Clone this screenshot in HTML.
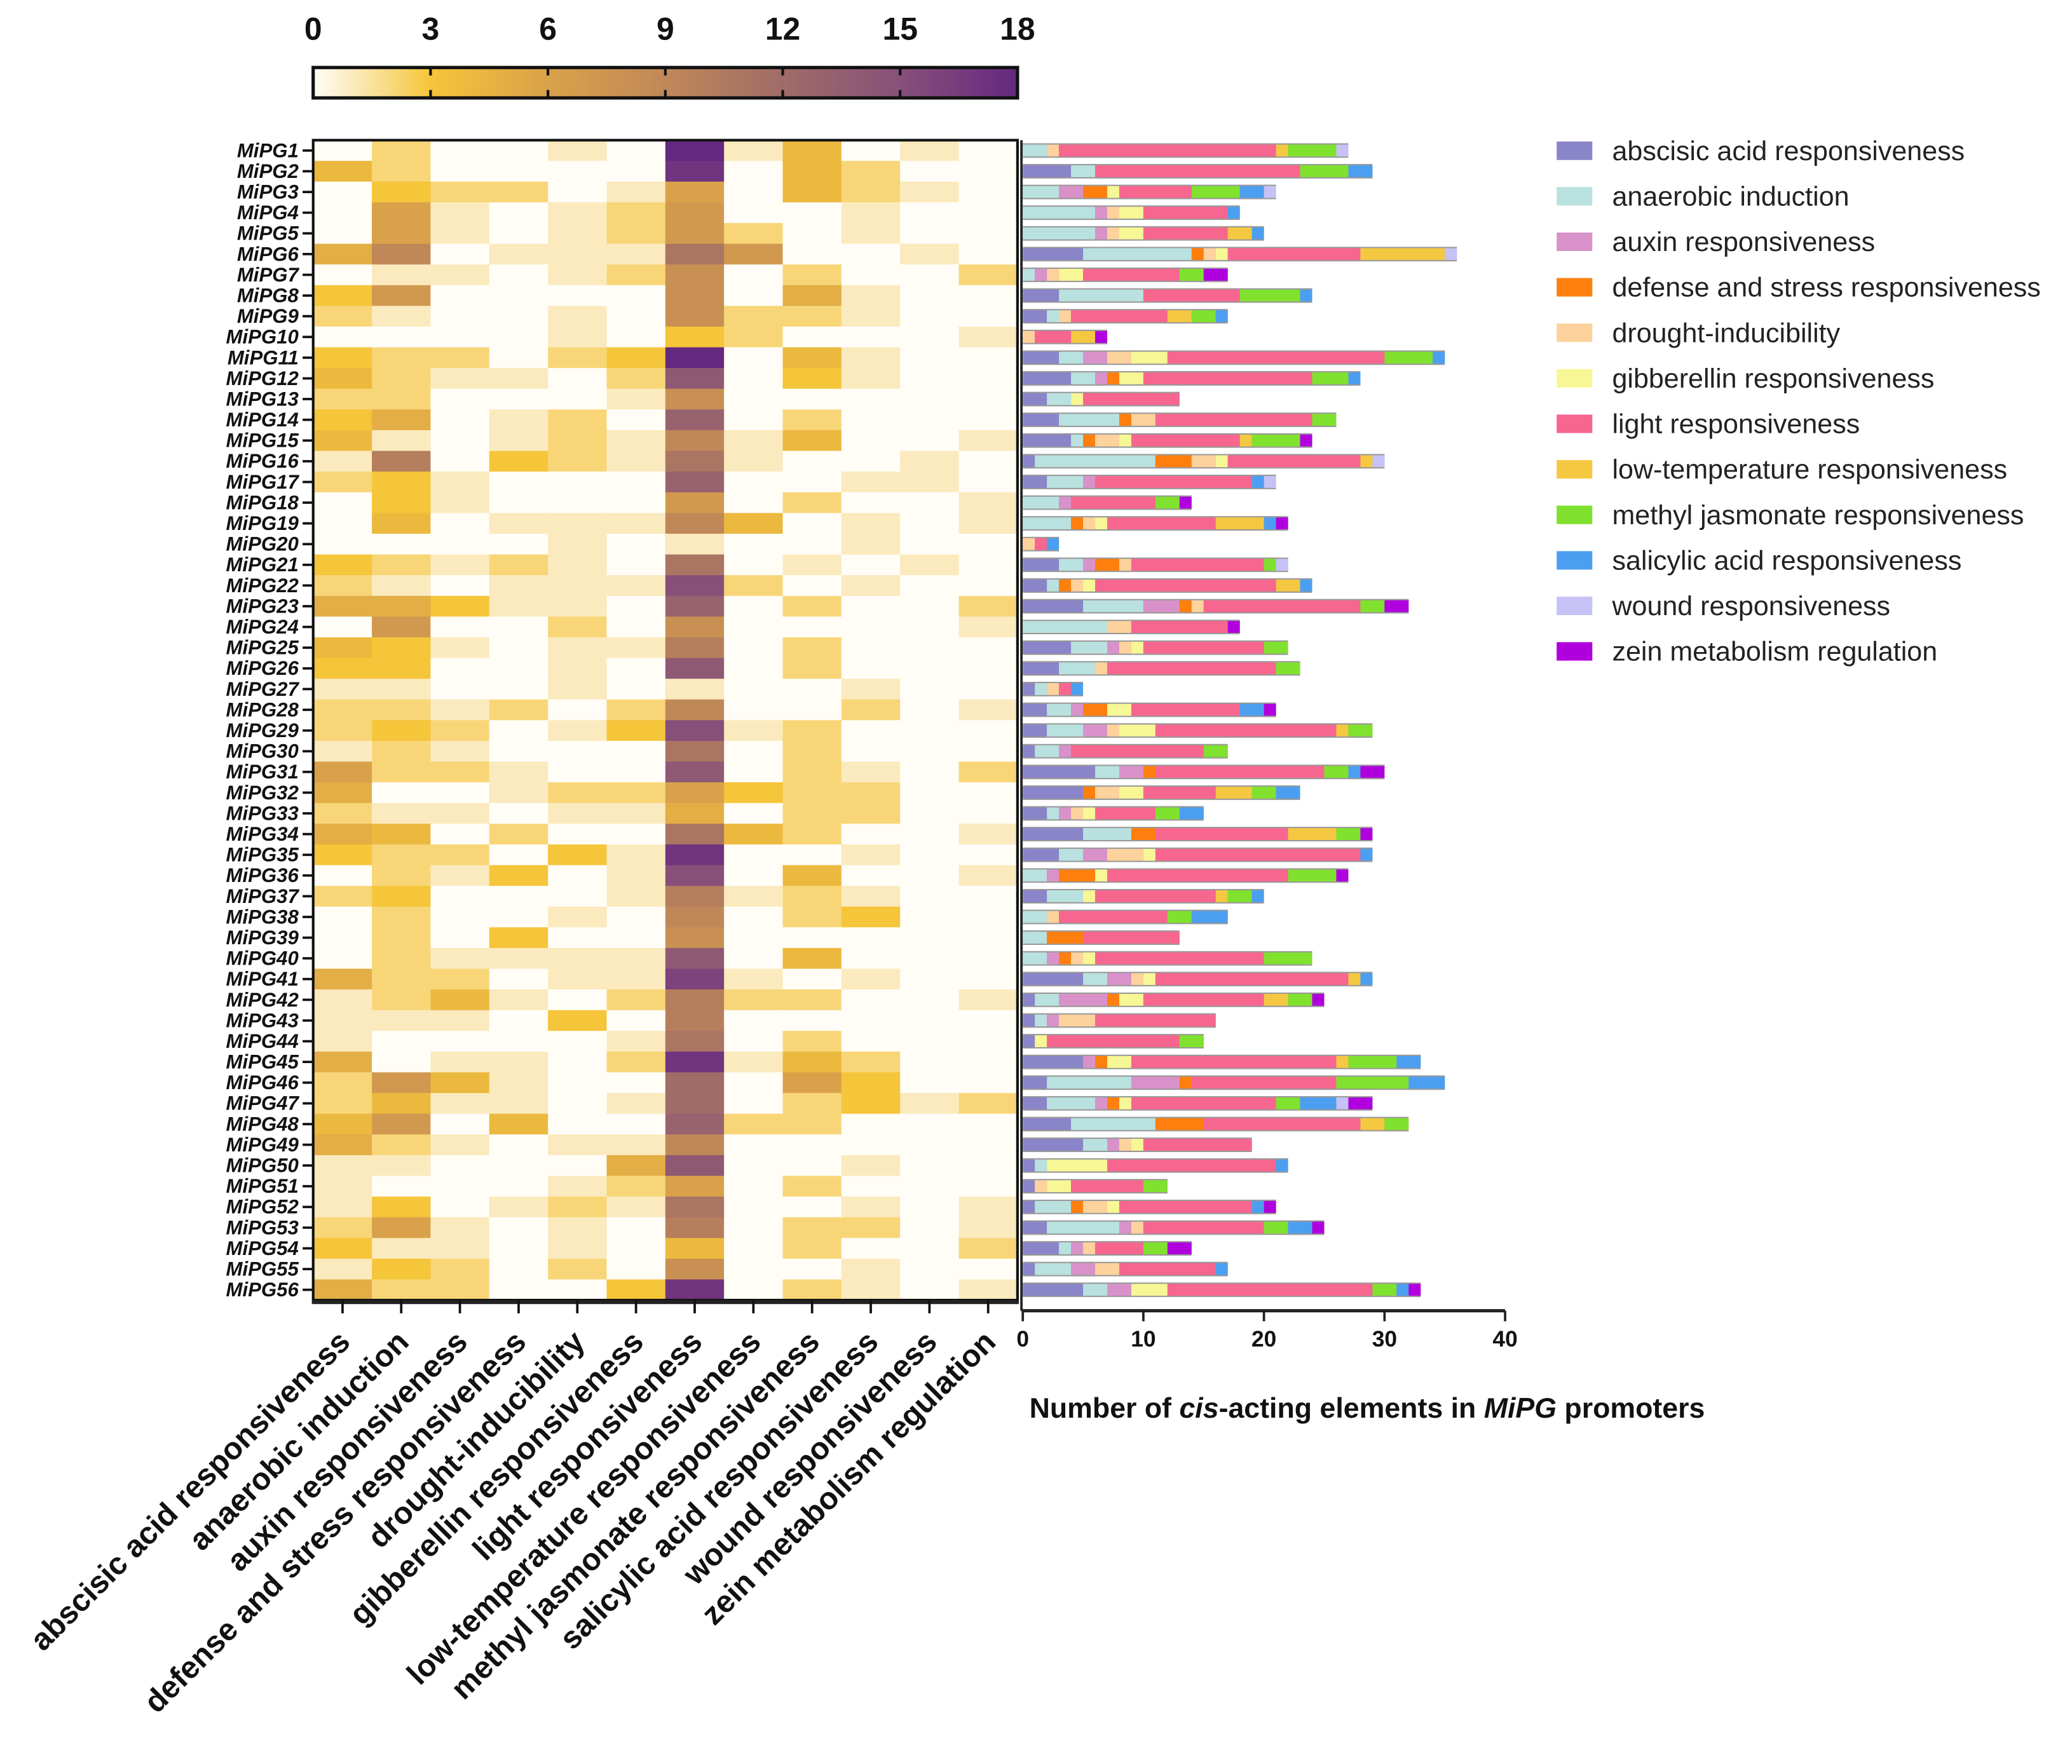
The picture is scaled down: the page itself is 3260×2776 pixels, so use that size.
<!DOCTYPE html>
<html><head><meta charset="utf-8">
<style>
html,body{margin:0;padding:0;background:#fff;}
svg{display:block;font-family:"Liberation Sans",Arial,sans-serif;}
</style></head>
<body>
<svg id="chart" width="3260" height="2776" viewBox="0 0 1568 1335" xmlns="http://www.w3.org/2000/svg">
<defs>
<linearGradient id="cbar" x1="0" x2="1" y1="0" y2="0">
<stop offset="0" stop-color="#fffdf6"/>
<stop offset="0.06" stop-color="#fbeab8"/>
<stop offset="0.1667" stop-color="#f5c53a"/>
<stop offset="0.3333" stop-color="#d9a24a"/>
<stop offset="0.5" stop-color="#c08858"/>
<stop offset="0.6667" stop-color="#a06c68"/>
<stop offset="0.8333" stop-color="#87507a"/>
<stop offset="1" stop-color="#652880"/>
</linearGradient>
</defs>
<g id="colorbar"></g>
<g id="heat"></g>
<g id="bars"></g>
<g id="legend"></g>
</svg>
<script>
const categories = ["abscisic acid responsiveness","anaerobic induction","auxin responsiveness","defense and stress responsiveness","drought-inducibility","gibberellin responsiveness","light responsiveness","low-temperature responsiveness","methyl jasmonate responsiveness","salicylic acid responsiveness","wound responsiveness","zein metabolism regulation"];
const genes = Array.from({length:56},(_,i)=>"MiPG"+(i+1));
const counts = [
[0,2,0,0,1,0,18,1,4,0,1,0],
[4,2,0,0,0,0,17,0,4,2,0,0],
[0,3,2,2,0,1,6,0,4,2,1,0],
[0,6,1,0,1,2,7,0,0,1,0,0],
[0,6,1,0,1,2,7,2,0,1,0,0],
[5,9,0,1,1,1,11,7,0,0,1,0],
[0,1,1,0,1,2,8,0,2,0,0,2],
[3,7,0,0,0,0,8,0,5,1,0,0],
[2,1,0,0,1,0,8,2,2,1,0,0],
[0,0,0,0,1,0,3,2,0,0,0,1],
[3,2,2,0,2,3,18,0,4,1,0,0],
[4,2,1,1,0,2,14,0,3,1,0,0],
[2,2,0,0,0,1,8,0,0,0,0,0],
[3,5,0,1,2,0,13,0,2,0,0,0],
[4,1,0,1,2,1,9,1,4,0,0,1],
[1,10,0,3,2,1,11,1,0,0,1,0],
[2,3,1,0,0,0,13,0,0,1,1,0],
[0,3,1,0,0,0,7,0,2,0,0,1],
[0,4,0,1,1,1,9,4,0,1,0,1],
[0,0,0,0,1,0,1,0,0,1,0,0],
[3,2,1,2,1,0,11,0,1,0,1,0],
[2,1,0,1,1,1,15,2,0,1,0,0],
[5,5,3,1,1,0,13,0,2,0,0,2],
[0,7,0,0,2,0,8,0,0,0,0,1],
[4,3,1,0,1,1,10,0,2,0,0,0],
[3,3,0,0,1,0,14,0,2,0,0,0],
[1,1,0,0,1,0,1,0,0,1,0,0],
[2,2,1,2,0,2,9,0,0,2,0,1],
[2,3,2,0,1,3,15,1,2,0,0,0],
[1,2,1,0,0,0,11,0,2,0,0,0],
[6,2,2,1,0,0,14,0,2,1,0,2],
[5,0,0,1,2,2,6,3,2,2,0,0],
[2,1,1,0,1,1,5,0,2,2,0,0],
[5,4,0,2,0,0,11,4,2,0,0,1],
[3,2,2,0,3,1,17,0,0,1,0,0],
[0,2,1,3,0,1,15,0,4,0,0,1],
[2,3,0,0,0,1,10,1,2,1,0,0],
[0,2,0,0,1,0,9,0,2,3,0,0],
[0,2,0,3,0,0,8,0,0,0,0,0],
[0,2,1,1,1,1,14,0,4,0,0,0],
[5,2,2,0,1,1,16,1,0,1,0,0],
[1,2,4,1,0,2,10,2,2,0,0,1],
[1,1,1,0,3,0,10,0,0,0,0,0],
[1,0,0,0,0,1,11,0,2,0,0,0],
[5,0,1,1,0,2,17,1,4,2,0,0],
[2,7,4,1,0,0,12,0,6,3,0,0],
[2,4,1,1,0,1,12,0,2,3,1,2],
[4,7,0,4,0,0,13,2,2,0,0,0],
[5,2,1,0,1,1,9,0,0,0,0,0],
[1,1,0,0,0,5,14,0,0,1,0,0],
[1,0,0,0,1,2,6,0,2,0,0,0],
[1,3,0,1,2,1,11,0,0,1,0,1],
[2,6,1,0,1,0,10,0,2,2,0,1],
[3,1,1,0,1,0,4,0,2,0,0,2],
[1,3,2,0,2,0,8,0,0,1,0,0],
[5,2,2,0,0,3,17,0,2,1,0,1]
];
const colorTicks = [0,3,6,9,12,15,18];
const barTicks = [0,10,20,30,40];
const seriesColors = ["#8a84c9","#b9e1df","#d992c9","#ff7f0e","#fdd29c","#f7f795","#f7668f","#f5c842","#80e12e","#4c9ff0","#c6c2f5","#b100de"];

const NS="http://www.w3.org/2000/svg";
function mk(tag,attrs,parent){const e=document.createElementNS(NS,tag);for(const k in attrs)e.setAttribute(k,attrs[k]);parent.appendChild(e);return e;}

const hx0=237,hx1=770,hy0=106,hy1=984;
const colW=(hx1-hx0)/categories.length, rowH=(hy1-hy0)/genes.length;
const bx0=774, bx1=1139, bmax=40;
const xHeat=i=>hx0+i*colW;
const yRow=r=>hy0+r*rowH;
const xBar=v=>bx0+(v/bmax)*(bx1-bx0);
const cScale=v=>hx0+(v/18)*(hx1-hx0);

const stops=[[0,[255,253,246]],[1,[251,234,190]],[2,[248,214,120]],[3,[245,197,58]],[6,[217,162,74]],[9,[192,136,88]],[12,[160,108,104]],[15,[135,80,122]],[18,[101,40,128]]];
function heatColor(v){
  for(let i=1;i<stops.length;i++){ if(v<=stops[i][0]){const a=stops[i-1],b=stops[i];const t=(v-a[0])/(b[0]-a[0]);const c=a[1].map((x,k)=>Math.round(x+(b[1][k]-x)*t));return `rgb(${c})`;}}
  return "rgb(101,40,128)";
}

const cb=document.getElementById('colorbar');
let r=mk('rect',{x:hx0,y:51,width:hx1-hx0,height:23,fill:'url(#cbar)',stroke:'#111','stroke-width':2.5},cb);


colorTicks.forEach(t=>{
  const x=cScale(t);
  if(t>0&&t<18){mk('line',{x1:x,x2:x,y1:51,y2:57,stroke:'#111','stroke-width':2},cb);mk('line',{x1:x,x2:x,y1:68,y2:74,stroke:'#111','stroke-width':2},cb);}
  const tx=mk('text',{x:x,y:30,'text-anchor':'middle','font-size':24,'font-weight':'bold',fill:'#111'},cb);
  tx.textContent=t;
  
  
});

const hg=document.getElementById('heat');
counts.forEach((row,ri)=>{
  row.forEach((v,ci)=>{
    const c=mk('rect',{x:xHeat(ci),y:yRow(ri),width:colW+0.3,height:rowH+0.3,fill:heatColor(v)},hg);
    
    
  });
  const t=mk('text',{x:226,y:yRow(ri)+rowH/2+5,'text-anchor':'end','font-size':15,'font-weight':'bold','font-style':'italic',fill:'#111'},hg);
  t.textContent=genes[ri];
  
  
  mk('line',{x1:229,x2:237,y1:yRow(ri)+rowH/2,y2:yRow(ri)+rowH/2,stroke:'#111','stroke-width':1.8},hg);
});
mk('rect',{x:hx0,y:hy0,width:hx1-hx0,height:hy1-hy0,fill:'none',stroke:'#111','stroke-width':2},hg);
mk('line',{x1:hx0-1,x2:hx1+1,y1:hy1+1.5,y2:hy1+1.5,stroke:'#222','stroke-width':3},hg);
categories.forEach((c,ci)=>{
  const x=xHeat(ci)+colW/2;
  mk('line',{x1:x,x2:x,y1:hy1,y2:hy1+10,stroke:'#111','stroke-width':1.8},hg);
  const t=mk('text',{x:x+7,y:1017,'text-anchor':'end','font-size':23.5,'font-weight':'bold',fill:'#111',transform:`rotate(-45 ${x+7} 1017)`},hg);
  t.textContent=c;
  
  
});

const bg=document.getElementById('bars');
counts.forEach((row,ri)=>{
  let acc=0;
  const yc=yRow(ri)+rowH/2;
  const total=row.reduce((a,b)=>a+b,0);
  const out=mk('rect',{x:bx0,y:yc-5.5,width:xBar(total)-bx0,height:11,fill:'#999'},bg);
  
  
  row.forEach((v,ci)=>{
    if(v>0){
      const s=mk('rect',{x:xBar(acc),y:yc-4.5,width:xBar(acc+v)-xBar(acc),height:9,fill:seriesColors[ci]},bg);
      
      
    }
    acc+=v;
  });
});
mk('line',{x1:bx0-1,x2:bx0-1,y1:hy0,y2:992,stroke:'#222','stroke-width':1.8},bg);
mk('line',{x1:bx0-1,x2:bx1,y1:992,y2:992,stroke:'#222','stroke-width':2.5},bg);
barTicks.forEach(t=>{
  const x=xBar(t);
  mk('line',{x1:x,x2:x,y1:992,y2:1000,stroke:'#222','stroke-width':1.8},bg);
  const tx=mk('text',{x:x,y:1019,'text-anchor':'middle','font-size':17,'font-weight':'bold',fill:'#111'},bg);
  tx.textContent=t;
  
  
});
const ttl=mk('text',{x:779,y:1073,'font-size':21.5,'font-weight':'bold',fill:'#111'},bg);


ttl.innerHTML='Number of <tspan font-style="italic">cis</tspan>-acting elements in <tspan font-style="italic">MiPG</tspan> promoters';

const lg=document.getElementById('legend');
categories.forEach((c,i)=>{
  const y=114+i*34.45;
  const sw=mk('rect',{x:1178,y:y-7,width:27,height:14,fill:seriesColors[i]},lg);
  
  
  const t=mk('text',{x:1220,y:y+7,'font-size':20.7,fill:'#222'},lg);
  t.textContent=c;
  
  
});
</script>
</body></html>
